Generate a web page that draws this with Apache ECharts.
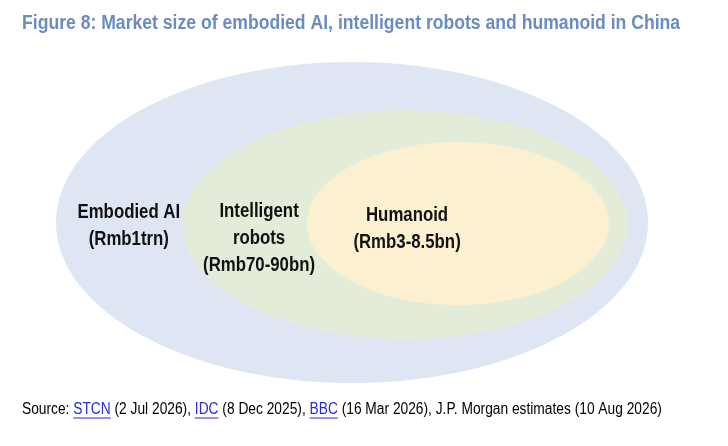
<!DOCTYPE html>
<html>
<head>
<meta charset="utf-8">
<script src="https://cdn.jsdelivr.net/npm/echarts@6/dist/echarts.min.js"></script>
<style>
html, body { margin: 0; padding: 0; background: #fff; }
#chart { width: 728px; height: 446px; }
</style>
</head>
<body>
<div id="chart"></div>
<script>
// segments, biggest first
var segments = ['Embodied AI', 'Intelligent robots', 'Humanoid'];
var labelLines = [['Embodied AI'], ['Intelligent', 'robots'], ['Humanoid']];
var marketSize = ['Rmb1trn', 'Rmb70-90bn', 'Rmb3-8.5bn'];
// extents of each ellipse on the hidden 0-100 axes
var spanX = [[0, 100], [21.3, 96.6], [42.4, 93.4]];
var spanY = [[0, 100], [15.0, 86.3], [24.9, 75.7]];
// where each label sits (axis units)
var labelX = [12.3, 34.3, 59.3];
var labelY = [51.1, 55.0, 52.0];

var titleText = 'Figure 8: Market size of embodied AI, intelligent robots and humanoid in China';
var sourceLinks = ['STCN', 'IDC', 'BBC'];
var sourceDates = [' (2 Jul 2026), ', ' (8 Dec 2025), ', ' (16 Mar 2026), '];
var sourceTail = 'J.P. Morgan estimates (10 Aug 2026)';

var fills = ['#dfe6f3', '#e3ebd9', '#fbf1d0'];
var FONT = '"Liberation Sans", Arial, sans-serif';
// Liberation Sans squeezed a bit so it looks like Arial Narrow
var TITLE_SCALE = 0.88;
var LABEL_SCALE = 0.84;
var SRC_SCALE = 0.86;

var dom = document.getElementById('chart');
var myChart = echarts.init(dom, null, { renderer: 'canvas' });

var data = segments.map(function (s, i) {
    return {
        name: s,
        value: [spanX[i][0], spanX[i][1], spanY[i][0], spanY[i][1], labelX[i], labelY[i]]
    };
});

// source line as rich text, underline positions measured from the font
var measure = document.createElement('canvas').getContext('2d');
measure.font = '16px ' + FONT;
var srcX = 22, srcY = 410;
var richText = 'Source: ';
var plain = 'Source: ';
var underlines = [];
sourceLinks.forEach(function (l, i) {
    var start = measure.measureText(plain).width;
    plain += l;
    var end = measure.measureText(plain).width;
    underlines.push([start * SRC_SCALE, end * SRC_SCALE]);
    richText += '{link|' + l + '}' + sourceDates[i];
    plain += sourceDates[i];
});
richText += sourceTail;

var graphics = [
    {
        type: 'text',
        x: 22, y: 23,
        scaleX: TITLE_SCALE,
        style: {
            text: titleText,
            fontFamily: FONT, fontSize: 20, fontWeight: 'bold',
            fill: '#6a8cc0', align: 'left', verticalAlign: 'middle'
        }
    },
    {
        type: 'text',
        x: srcX, y: srcY,
        scaleX: SRC_SCALE,
        style: {
            text: richText,
            fontFamily: FONT, fontSize: 16,
            fill: '#000', align: 'left', verticalAlign: 'middle',
            rich: {
                link: { fontFamily: FONT, fontSize: 16, fill: '#2b2bd9' }
            }
        }
    }
];
underlines.forEach(function (u) {
    graphics.push({
        type: 'line',
        shape: { x1: srcX + u[0], y1: srcY + 8, x2: srcX + u[1], y2: srcY + 8 },
        style: { stroke: '#2b2bd9', lineWidth: 1 }
    });
});

var option = {
    animation: false,
    grid: { left: 56, right: 80, top: 62, bottom: 63 },
    xAxis: { type: 'value', min: 0, max: 100, show: false },
    yAxis: { type: 'value', min: 0, max: 100, inverse: true, show: false },
    graphic: graphics,
    series: [
        {
            type: 'custom',
            encode: { x: [0, 1, 4], y: [2, 3, 5] },
            renderItem: function (params, api) {
                var i = params.dataIndex;
                var p0 = api.coord([api.value(0), api.value(2)]);
                var p1 = api.coord([api.value(1), api.value(3)]);
                var lp = api.coord([api.value(4), api.value(5)]);
                var lines = labelLines[i].concat(['(' + marketSize[i] + ')']);
                return {
                    type: 'group',
                    children: [
                        {
                            type: 'ellipse',
                            z2: i,
                            shape: {
                                cx: (p0[0] + p1[0]) / 2,
                                cy: (p0[1] + p1[1]) / 2,
                                rx: Math.abs(p1[0] - p0[0]) / 2,
                                ry: Math.abs(p1[1] - p0[1]) / 2
                            },
                            style: { fill: fills[i] }
                        },
                        {
                            type: 'text',
                            z2: 100,
                            x: lp[0], y: lp[1],
                            scaleX: LABEL_SCALE,
                            style: {
                                text: lines.join('\n'),
                                fontFamily: FONT, fontSize: 20, fontWeight: 'bold',
                                lineHeight: 27,
                                fill: '#111', align: 'center', verticalAlign: 'middle'
                            }
                        }
                    ]
                };
            },
            data: data
        }
    ]
};

myChart.setOption(option);
window.addEventListener('resize', myChart.resize);
</script>
</body>
</html>
